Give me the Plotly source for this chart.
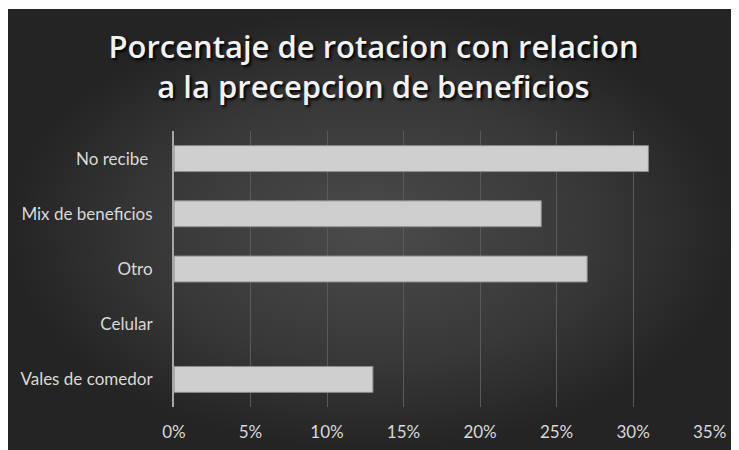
import plotly.graph_objects as go

# Datos
categorias = ["Vales de comedor", "Celular", "Otro", "Mix de beneficios", "No recibe "]
porcentajes = [0.13, 0.0, 0.27, 0.24, 0.31]
ticks_x = [0, 0.05, 0.10, 0.15, 0.20, 0.25, 0.30, 0.35]
etiquetas_x = ["0%", "5%", "10%", "15%", "20%", "25%", "30%", "35%"]

titulo = "Porcentaje de rotacion con relacion<br>a la precepcion de beneficios"

# la pagina deja 8px de margen (body), asi que la figura es 8px mas chica
W, H = 731, 442

fig = go.Figure()

# Fondo oscuro con degradado radial (decoracion)
fig.add_trace(go.Scatter(
    x=[0, 1, 1, 0, 0], y=[0, 0, 1, 1, 0],
    fill="toself", mode="none", hoverinfo="skip", showlegend=False,
    fillgradient=dict(type="radial",
                      colorscale=[[0, "#4b4b4b"], [0.6, "#383838"], [1, "#242424"]]),
    xaxis="x", yaxis="y",
))

# Barras (sin borde cuando el valor es 0)
fig.add_trace(go.Bar(
    x=porcentajes, y=categorias, orientation="h",
    marker=dict(color="#cfcfcf",
                line=dict(color="#8c8c8c", width=[1 if v > 0 else 0 for v in porcentajes])),
    width=0.47, showlegend=False,
    xaxis="x2", yaxis="y2",
))

fig.update_layout(
    width=W, height=H,
    margin=dict(l=0, r=0, t=0, b=0, autoexpand=False),
    paper_bgcolor="white",
    plot_bgcolor="rgba(0,0,0,0)",
    font=dict(family="Lato, Open Sans, sans-serif", color="#d9d9d9", size=17),
    title=dict(
        text=titulo, x=0.5, xanchor="center",
        y=1 - 50 / H, yanchor="middle", yref="container", automargin=False,
        font=dict(family="Open Sans, sans-serif", size=31, color="#f2f2f2",
                  weight=600, shadow="2px 2px 3px #000000"),
    ),
    xaxis=dict(domain=[0, 729 / W], range=[0, 1], visible=False,
               fixedrange=True, automargin=False),
    yaxis=dict(domain=[0, 1 - 1 / H], range=[0, 1], visible=False,
               fixedrange=True, automargin=False),
    xaxis2=dict(
        domain=[166 / W, 701.6 / W], anchor="y2",
        range=[0, 0.35], tickvals=ticks_x, ticktext=etiquetas_x,
        showgrid=True, gridcolor="#5a5a5a", gridwidth=1,
        zeroline=False, showline=False, ticks="",
        ticklabelstandoff=13, automargin=False,
    ),
    yaxis2=dict(
        domain=[43 / H, 1 - 123 / H], anchor="x2",
        showgrid=False, zeroline=False,
        showline=True, linecolor="#a6a6a6", linewidth=2,
        ticks="", ticklabelstandoff=16, automargin=False,
    ),
)

fig.write_html("out.html")
